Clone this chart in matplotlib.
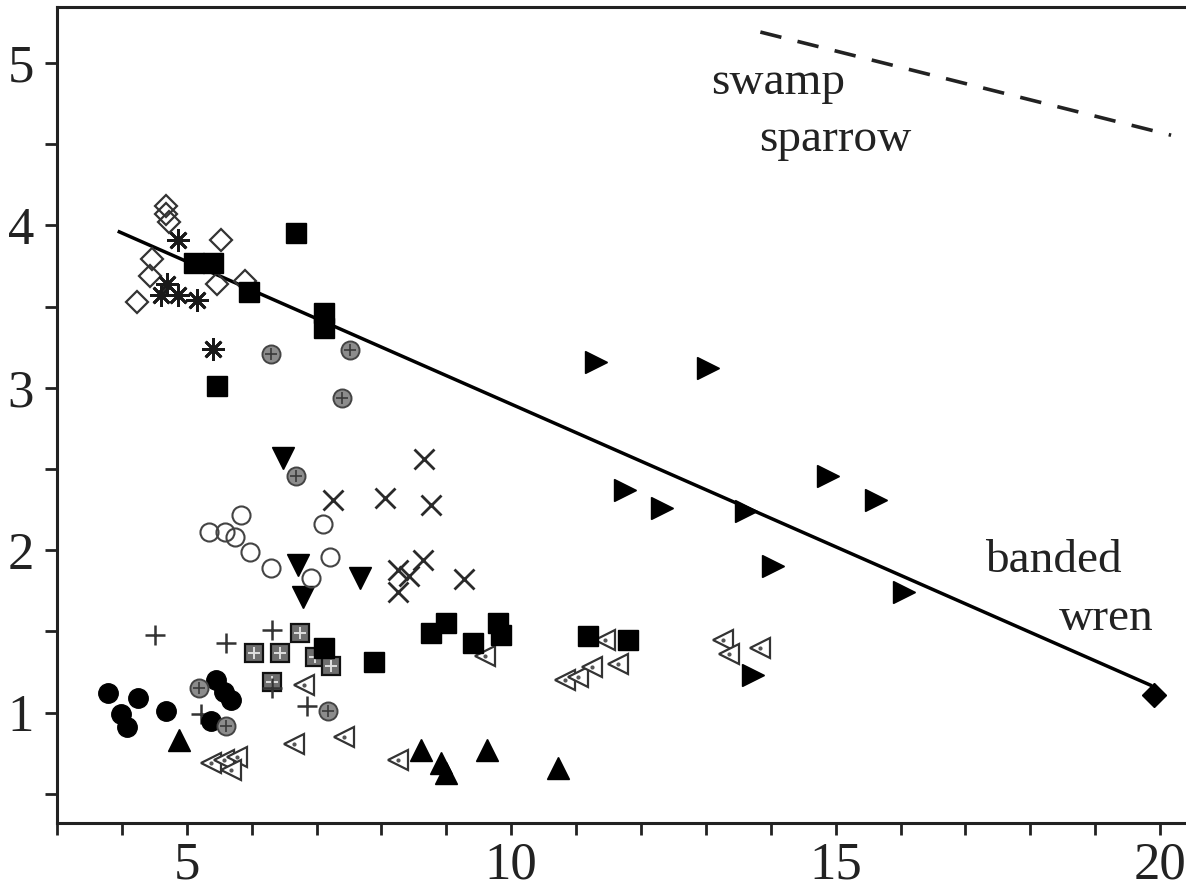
import matplotlib
matplotlib.use("Agg")
import matplotlib.pyplot as plt
from matplotlib.ticker import MultipleLocator, FixedLocator

plt.rcParams['font.family'] = ['Liberation Serif', 'DejaVu Serif']

# ---- data ----
open_diamond_x = [4.68, 4.68, 4.73, 4.47, 4.44, 4.24, 5.52, 5.47, 5.90]
open_diamond_y = [4.12, 4.07, 4.02, 3.79, 3.69, 3.53, 3.91, 3.64, 3.66]

asterisk_x = [4.86, 4.70, 4.86, 5.16, 4.60, 5.40]
asterisk_y = [3.91, 3.64, 3.57, 3.54, 3.57, 3.24]

black_square_x = [6.68, 5.11, 5.40, 5.96, 7.12, 7.12, 5.47, 8.77, 9.00, 9.41,
                  9.80, 9.85, 11.19, 11.80, 7.89, 7.12]
black_square_y = [3.95, 3.77, 3.77, 3.59, 3.46, 3.37, 3.01, 1.49, 1.55, 1.43,
                  1.55, 1.48, 1.47, 1.45, 1.31, 1.40]

checker_square_x = [6.74, 6.04, 6.43, 6.32, 6.97, 7.22]
checker_square_y = [1.49, 1.37, 1.37, 1.19, 1.34, 1.29]

plus_x = [4.51, 5.60, 6.32, 6.86, 5.22, 6.32]
plus_y = [1.48, 1.43, 1.51, 1.04, 0.99, 1.15]

filled_circle_x = [3.78, 4.25, 3.98, 4.08, 4.68, 5.45, 5.58, 5.68, 5.37]
filled_circle_y = [1.12, 1.09, 0.99, 0.91, 1.01, 1.20, 1.13, 1.08, 0.95]

cross_circle_x = [5.19, 5.60, 7.17, 6.30, 7.51, 7.40, 6.68]
cross_circle_y = [1.15, 0.92, 1.01, 3.21, 3.23, 2.94, 2.46]

tri_up_x = [8.61, 8.92, 9.00, 9.62, 10.72, 4.88]
tri_up_y = [0.77, 0.69, 0.63, 0.77, 0.66, 0.83]

open_tri_left_x = [5.37, 5.58, 5.78, 5.68, 6.66, 7.43, 6.81, 8.25, 9.59, 10.83,
                   11.03, 11.24, 11.44, 11.65, 13.27, 13.84, 13.35]
open_tri_left_y = [0.69, 0.71, 0.73, 0.65, 0.81, 0.85, 1.17, 0.71, 1.35, 1.20,
                   1.22, 1.28, 1.45, 1.30, 1.45, 1.40, 1.36]

tri_down_x = [6.49, 6.71, 6.79, 7.67]
tri_down_y = [2.57, 1.91, 1.71, 1.83]

tri_right_x = [11.31, 13.04, 11.76, 12.33, 13.62, 14.89, 15.63, 14.04, 16.05, 13.73]
tri_right_y = [3.16, 3.12, 2.37, 2.26, 2.24, 2.46, 2.31, 1.90, 1.74, 1.23]

filled_diamond_x = [19.91]
filled_diamond_y = [1.11]

x_mark_x = [8.66, 8.05, 8.77, 8.64, 8.25, 8.43, 8.25, 9.28, 7.25]
x_mark_y = [2.56, 2.32, 2.28, 1.94, 1.88, 1.84, 1.74, 1.82, 2.31]

open_circle_x = [5.34, 5.59, 5.83, 5.74, 5.97, 6.30, 6.91, 7.10, 7.21]
open_circle_y = [2.11, 2.11, 2.22, 2.08, 1.99, 1.89, 1.83, 2.16, 1.96]

banded_wren_line_x = [3.96, 19.85]
banded_wren_line_y = [3.96, 1.17]
swamp_sparrow_line_x = [13.84, 20.17]
swamp_sparrow_line_y = [5.19, 4.555]

x_tick_labels = [5, 10, 15, 20]
y_tick_labels = [1, 2, 3, 4, 5]

# ---- figure ----
W, H = 1186, 894
fig = plt.figure(figsize=(W / 100, H / 100), dpi=100)
ax = fig.add_axes([57 / W, 71 / H, (W - 57) / W, (823 - 6.7) / H])
ax.set_xlim(3.0, 20.40)
ax.set_ylim(0.321, 5.346)

k = 'black'
ax.plot(banded_wren_line_x, banded_wren_line_y, color=k, lw=2.5, zorder=3)
ax.plot(swamp_sparrow_line_x, swamp_sparrow_line_y, color='#222222', lw=2.6,
        dashes=(6.0, 4.6), zorder=3)

ax.plot(open_diamond_x, open_diamond_y, 'D', ms=11.5, mfc='none', mec='#333333', mew=1.6, zorder=4)
ax.plot(asterisk_x, asterisk_y, marker=(8, 2, 0), ls='none', ms=16, mec='#1a1a1a', mew=2.0, zorder=4)
ax.plot(black_square_x, black_square_y, 's', ms=14, mfc=k, mec=k, zorder=5)
ax.plot(checker_square_x, checker_square_y, 's', ms=13, mfc='#6e6e6e', mec='#111111', mew=1.6, zorder=4)
ax.plot(checker_square_x, checker_square_y, '+', ms=8, mec='#e0e0e0', mew=1.4, zorder=4)
ax.plot(plus_x, plus_y, '+', ms=15, mec='#333333', mew=1.8, zorder=4)
ax.plot(filled_circle_x, filled_circle_y, 'o', ms=14, mfc=k, mec=k, zorder=4)
ax.plot(cross_circle_x, cross_circle_y, 'o', ms=13, mfc='#8c8c8c', mec='#444444', mew=1.4, zorder=4)
ax.plot(cross_circle_x, cross_circle_y, '+', ms=9, mec='#3a3a3a', mew=1.2, zorder=4)
ax.plot(tri_up_x, tri_up_y, '^', ms=16, mfc=k, mec=k, zorder=4)
ax.plot(open_tri_left_x, open_tri_left_y, '<', ms=15, mfc='white', mec='#333333', mew=1.6, zorder=4)
ax.plot(open_tri_left_x, open_tri_left_y, '.', ms=4, mfc='#555555', mec='#555555', zorder=4)
ax.plot(tri_down_x, tri_down_y, 'v', ms=16, mfc=k, mec=k, zorder=4)
ax.plot(tri_right_x, tri_right_y, '>', ms=16, mfc=k, mec=k, zorder=4)
ax.plot(filled_diamond_x, filled_diamond_y, 'D', ms=12, mfc=k, mec=k, zorder=5)
ax.plot(x_mark_x, x_mark_y, 'x', ms=14, mec='#2a2a2a', mew=2.0, zorder=4)
ax.plot(open_circle_x, open_circle_y, 'o', ms=13, mfc='none', mec='#444444', mew=1.5, zorder=4)

tfs = 34
ax.text(14.12, 4.81, 'swamp', fontsize=tfs, ha='center', va='baseline', color='#222222')
ax.text(14.99, 4.46, 'sparrow', fontsize=tfs, ha='center', va='baseline', color='#222222')
ax.text(18.36, 1.865, 'banded', fontsize=tfs, ha='center', va='baseline', color='#222222')
ax.text(19.17, 1.51, 'wren', fontsize=tfs, ha='center', va='baseline', color='#222222')

# axes styling
for s in ['left', 'bottom', 'top']:
    ax.spines[s].set_linewidth(2.2)
    ax.spines[s].set_color('#222222')
ax.spines['right'].set_visible(False)

ax.xaxis.set_major_locator(FixedLocator(x_tick_labels))
ax.xaxis.set_minor_locator(MultipleLocator(1))
ax.yaxis.set_major_locator(FixedLocator(y_tick_labels))
ax.yaxis.set_minor_locator(MultipleLocator(0.5))
ax.set_xticklabels([str(v) for v in x_tick_labels])
ax.set_yticklabels([str(v) for v in y_tick_labels])
ax.tick_params(which='both', direction='out', length=8.5, width=2.0, color='#222222')
ax.tick_params(axis='x', which='both', top=False, pad=5, labelsize=38)
ax.tick_params(axis='y', which='both', right=False, pad=8, labelsize=38)
ax.tick_params(labelcolor='#222222')

fig.savefig('out.png', dpi=100)
